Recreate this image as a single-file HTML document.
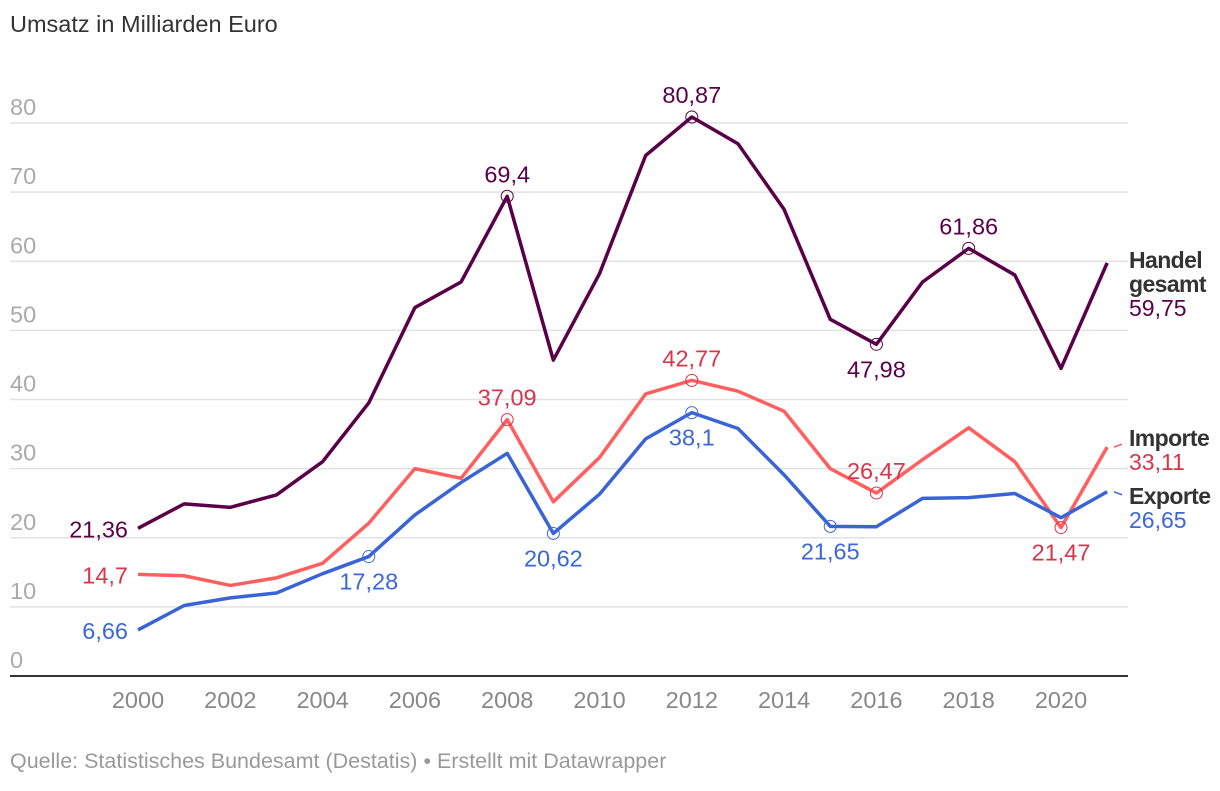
<!DOCTYPE html>
<html><head><meta charset="utf-8"><style>
body{margin:0;background:#fff;width:1220px;height:786px;overflow:hidden;font-family:"Liberation Sans",sans-serif}
</style></head><body>
<svg id="chart" width="1220" height="786" xmlns="http://www.w3.org/2000/svg" font-family="Liberation Sans, sans-serif">
<text x="10" y="32" font-size="23.5" fill="#333">Umsatz in Milliarden Euro</text>
<g id="grid"></g><g id="lines"></g><g id="labels"></g>
<text x="10" y="768" font-size="21.5" fill="#999">Quelle: Statistisches Bundesamt (Destatis) • Erstellt mit Datawrapper</text>
</svg>
<script>
const years=[2000,2001,2002,2003,2004,2005,2006,2007,2008,2009,2010,2011,2012,2013,2014,2015,2016,2017,2018,2019,2020,2021];
const handel=[21.36,24.9,24.4,26.2,31,39.5,53.3,57,69.4,45.7,58.2,75.3,80.87,77,67.5,51.6,47.98,57,61.86,58,44.5,59.75];
const importe=[14.7,14.5,13.1,14.2,16.3,22.1,30,28.6,37.09,25.2,31.6,40.8,42.77,41.2,38.3,30,26.47,31.3,35.9,31,21.47,33.11];
const exporte=[6.66,10.2,11.3,12,14.8,17.28,23.3,28,32.2,20.62,26.3,34.3,38.1,35.8,29.1,21.65,21.6,25.7,25.8,26.4,22.9,26.65];
const yTicks=[0,10,20,30,40,50,60,70,80];
const xTicks=[2000,2002,2004,2006,2008,2010,2012,2014,2016,2018,2020];
const NS='http://www.w3.org/2000/svg';
const X=y=>138+(y-2000)*46.15;
const Y=v=>676-v*6.9125;
function mk(t,a,p){const e=document.createElementNS(NS,t);for(const k in a)e.setAttribute(k,a[k]);p.appendChild(e);return e;}
const grid=document.getElementById('grid'),lines=document.getElementById('lines'),labels=document.getElementById('labels');
yTicks.forEach(v=>{
 if(v>0){const l=mk('line',{x1:10,x2:1128,y1:Y(v),y2:Y(v),stroke:'#e2e2e2','stroke-width':1.5},grid);
 
 }
 const t=mk('text',{x:10,y:Y(v)-8,'font-size':23.5,fill:'#aaa'},grid);t.textContent=v;
 
 
});
const base=mk('line',{x1:10,x2:1128,y1:676,y2:676,stroke:'#333','stroke-width':2},grid);


xTicks.forEach(y=>{const t=mk('text',{x:X(y),y:708,'font-size':23.5,fill:'#888','text-anchor':'middle'},grid);t.textContent=y;
 
 });
const series=[
 {name:'handel',vals:handel,c:'#5a0048',lc:'#5a0048',ann:[[0,'l'],[8,'a'],[12,'a'],[16,'b'],[18,'a']]},
 {name:'importe',vals:importe,c:'#ff5f5f',lc:'#d9344a',ann:[[0,'l'],[8,'a'],[12,'a'],[16,'a'],[20,'b']]},
 {name:'exporte',vals:exporte,c:'#3a64d6',lc:'#3b67d8',ann:[[0,'l'],[5,'b'],[9,'b'],[12,'b'],[15,'b']]}
];
const fmt=v=>String(v).replace('.',',');
series.forEach(s=>{
 const p=mk('polyline',{points:s.vals.map((v,i)=>X(years[i])+','+Y(v)).join(' '),fill:'none',stroke:s.c,'stroke-width':3.5,'stroke-linejoin':'round'},lines);
 
 
 s.ann.forEach(([i,pos])=>{
  const x=X(years[i]),y=Y(s.vals[i]);
  if(pos!=='l'){const c=mk('circle',{cx:x,cy:y,r:6,fill:'none',stroke:s.lc,'stroke-width':1},labels);
   
   }
  let a={'font-size':23.5,fill:s.lc};
  if(pos==='l'){a.x=x-10;a.y=y+9;a['text-anchor']='end';}
  else if(pos==='a'){a.x=x;a.y=y-14;a['text-anchor']='middle';}
  else {a.x=x;a.y=y+33;a['text-anchor']='middle';}
  const t=mk('text',a,labels);t.textContent=fmt(s.vals[i]);
  
  
 });
});
function endLabel(names,val,col,y0,name){
 names.forEach((n,k)=>{const t=mk('text',{x:1129,y:y0+k*24,'font-size':23,fill:'#333','font-weight':'bold','letter-spacing':'-0.6'},labels);t.textContent=n;
 
 });
 const v=mk('text',{x:1129,y:y0+names.length*24,'font-size':23,fill:col},labels);v.textContent=fmt(val);
 
 
}
endLabel(['Handel','gesamt'],handel[21],'#5a0048',268,'handel');
endLabel(['Importe'],importe[21],'#d9344a',446,'importe');
endLabel(['Exporte'],exporte[21],'#3b67d8',504,'exporte');
[[Y(importe[21]),'#ff5f5f',-5],[Y(exporte[21]),'#3a64d6',5]].forEach(([y,c,d])=>{
 const l=mk('line',{x1:1114,y1:y,x2:1122,y2:y+d*0.6,stroke:c,'stroke-width':1.5},labels);
 
 
});
</script>
</body></html>
